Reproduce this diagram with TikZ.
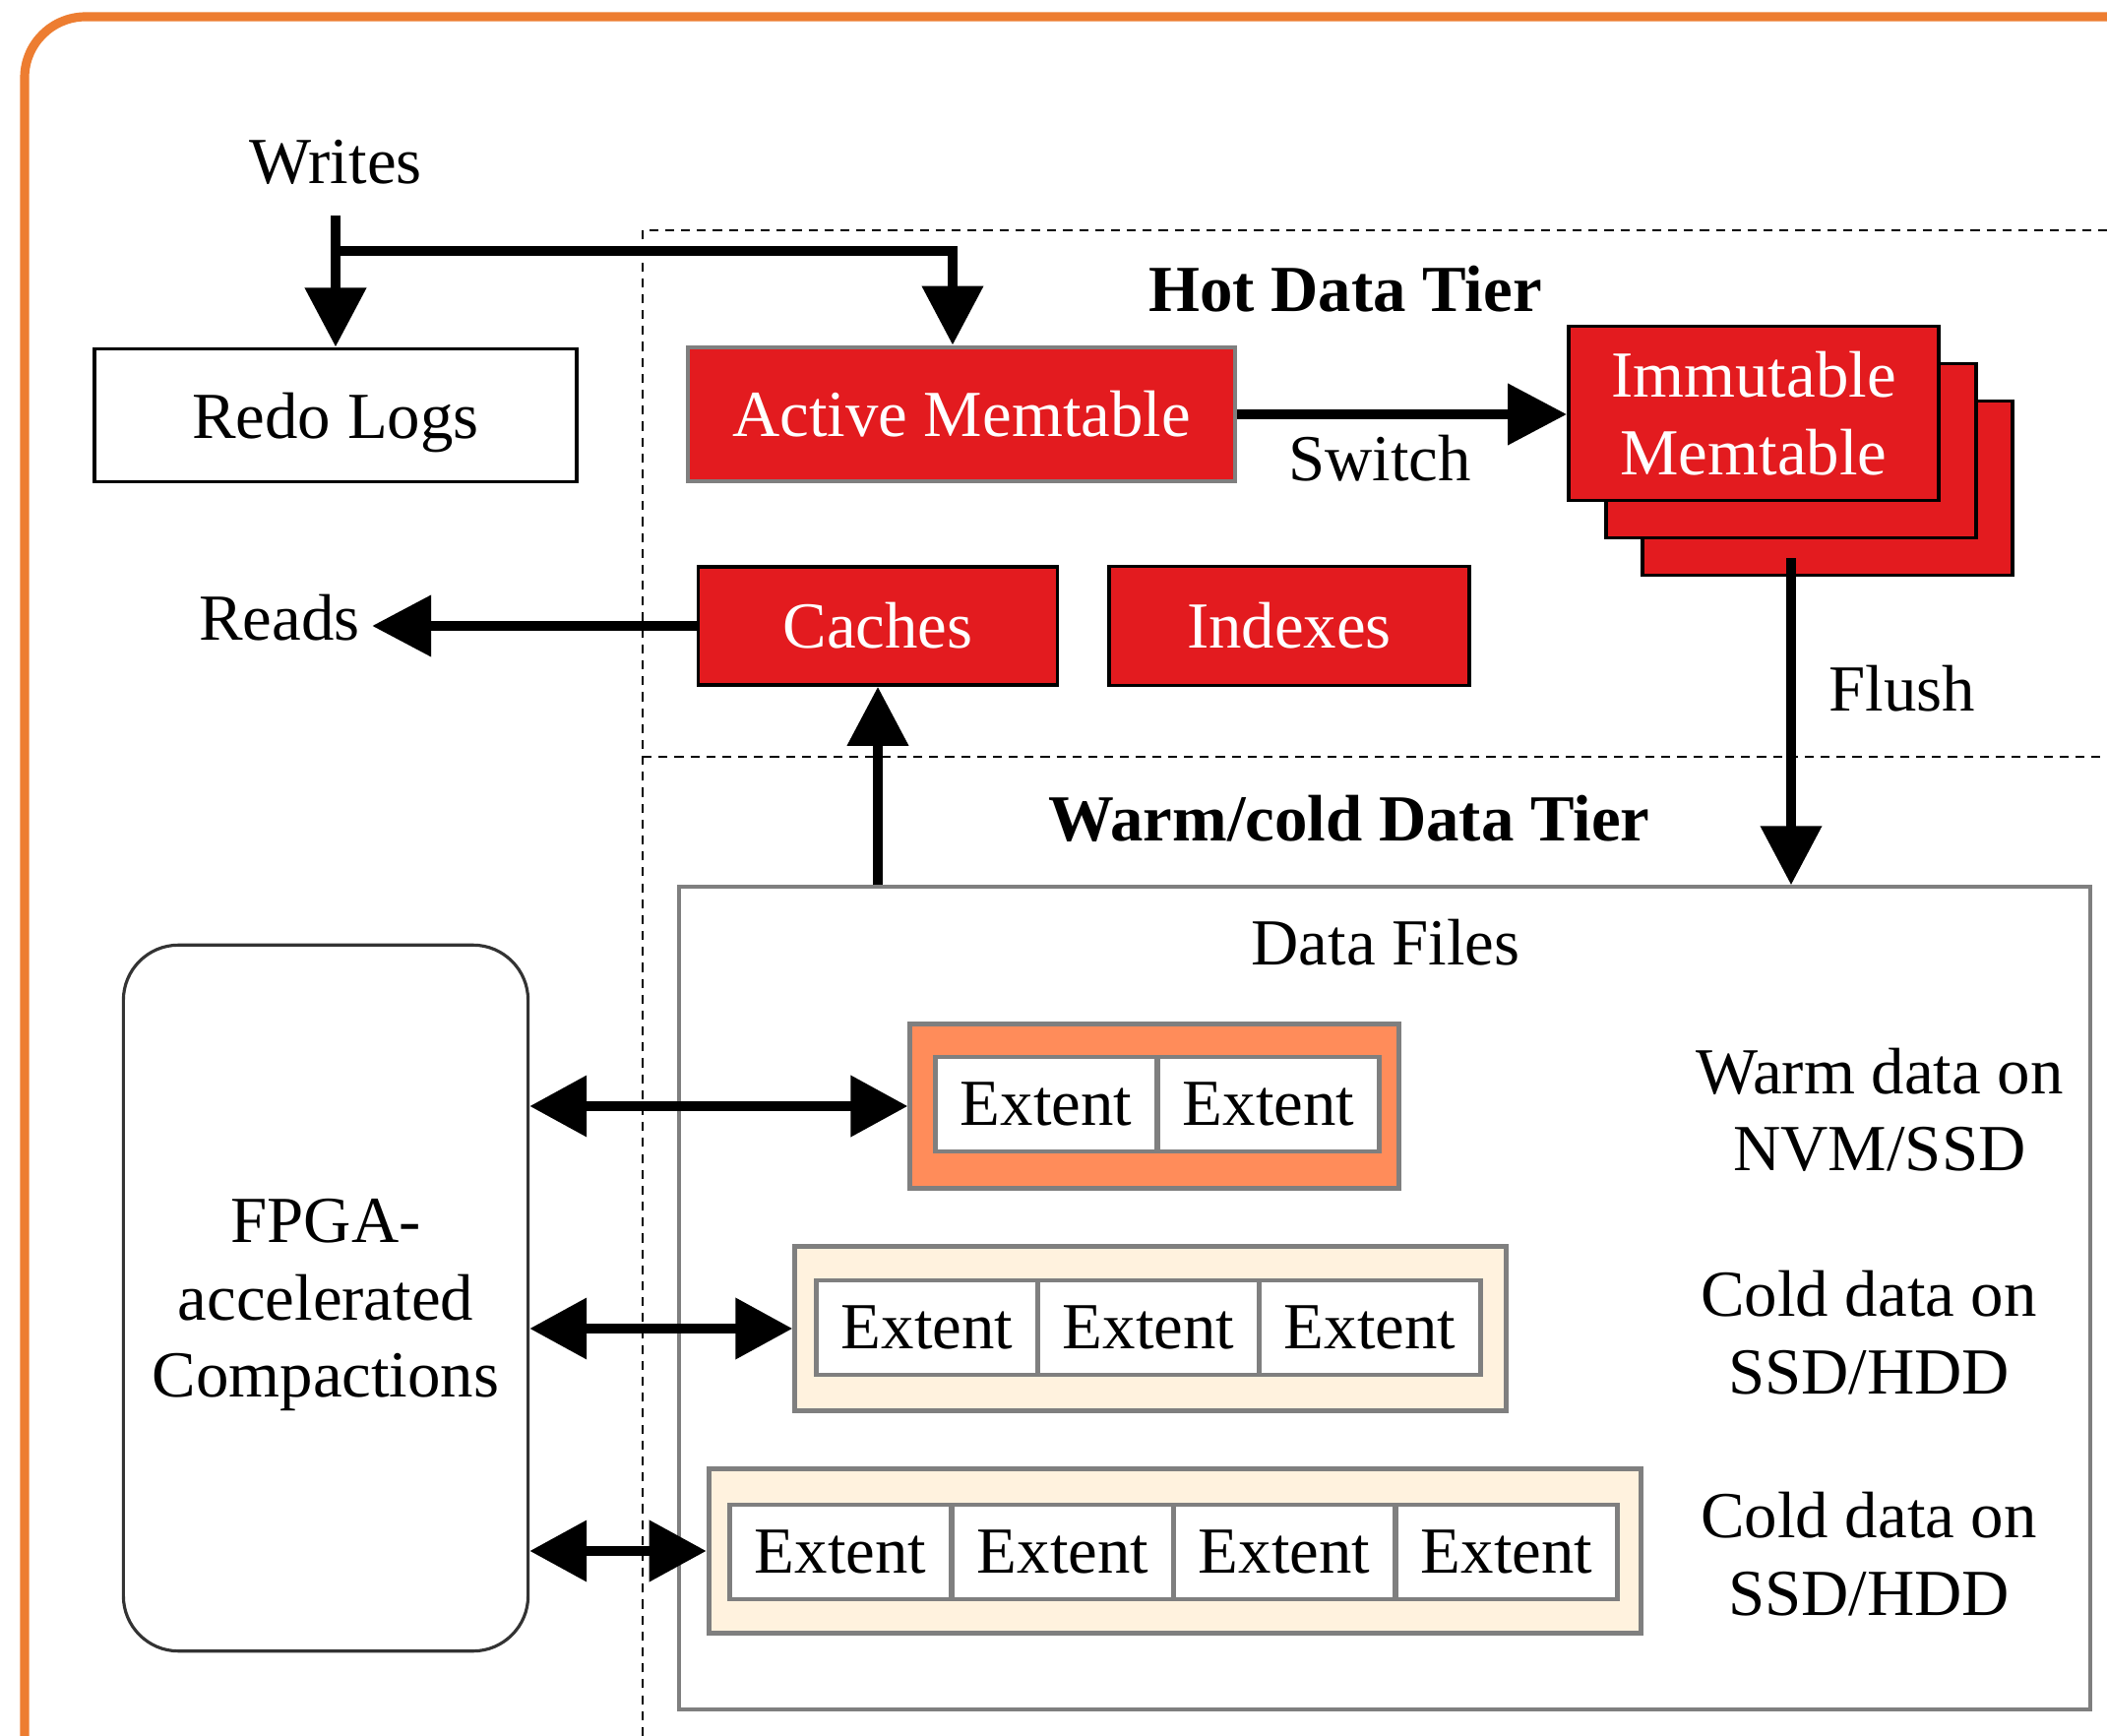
\documentclass[tikz,border=0pt]{standalone}
\usepackage{fontspec}
\setmainfont{Liberation Serif}
\usetikzlibrary{arrows.meta}
\definecolor{memred}{HTML}{E31B1F}
\definecolor{warmfill}{HTML}{FF8C5A}
\definecolor{coldfill}{HTML}{FFF2DE}
\definecolor{framecol}{HTML}{ED7D31}
\definecolor{linegrey}{HTML}{7F7F7F}
\tikzset{
  frame/.style={draw=framecol,line width=2.6pt,rounded corners=0.62cm},
  tier/.style={line width=0.6pt,dash pattern=on 2.6pt off 2pt},
  flow/.style={line width=3pt,-{Triangle[width=0.6cm,length=0.6cm]}},
  both/.style={line width=3pt,{Triangle[width=0.6cm,length=0.58cm]}-{Triangle[width=0.6cm,length=0.58cm]}},
  logbox/.style={draw=black,line width=1.1pt,fill=white,inner sep=0pt},
  membox/.style={draw=black,line width=1pt,fill=memred,text=white,inner sep=0pt,align=center},
  tray/.style={draw=linegrey,line width=1.4pt,minimum height=1.66cm,inner sep=0pt},
  extent/.style={draw=linegrey,line width=1.3pt,fill=white,minimum width=2.25cm,minimum height=0.96cm,inner sep=0pt},
}
\begin{document}
\begin{tikzpicture}[x=0.01cm,y=-0.01cm,font=\fontsize{19}{22.3}\selectfont]
  \clip (0,0) rectangle (2141,1764);
  \fill[white] (0,0) rectangle (2141,1764);
  % outer frame
  \draw[frame] (25,1800) -- (25,17) -- (2200,17);
  % tier borders
  \draw[tier] (653,1764) -- (653,234) -- (2141,234);
  \draw[tier] (653,769) -- (2141,769);
  % texts
  \node at(341,165)(writes){Writes};
  \node at(284,628)(reads){Reads};
  \node at(1367,294)(hot){\textbf{Hot Data Tier}};
  \node at(1371,832)(warmcold){\textbf{Warm/cold Data Tier}};
  \node at(1402,466)(switch){Switch};
  \node at(1933,700)(flush){Flush};
  % hot tier nodes
  \node[logbox,text depth=0pt,minimum width=4.9cm,minimum height=1.35cm] at(341,422)(redo){Redo Logs};
  \node[membox,draw=linegrey,line width=1.3pt,minimum width=5.56cm,minimum height=1.36cm] at(977,421)(active){Active Memtable};
  \node[membox,minimum width=3.65cm,minimum height=1.2cm] at(892,636)(caches){Caches};
  \node[membox,minimum width=3.66cm,minimum height=1.21cm] at(1310,636)(indexes){Indexes};
  \node[membox,minimum width=3.76cm,minimum height=1.77cm] at(1857,496)(imm3){};
  \node[membox,minimum width=3.76cm,minimum height=1.77cm] at(1820,458)(imm2){};
  \node[membox,minimum width=3.76cm,minimum height=1.77cm] at(1782,420)(imm1){Immutable\\Memtable};
  % warm/cold tier nodes
  \node[draw=linegrey,line width=1.1pt,minimum width=14.33cm,minimum height=8.35cm] at(1407,1319)(datafiles){};
  \node at(1408,958)(dflabel){Data Files};
  \node[draw=black!80,line width=0.9pt,rounded corners=0.56cm,text depth=0pt,minimum width=4.11cm,minimum height=7.17cm,align=center] at(331,1319)(fpga){FPGA-\\accelerated\\Compactions};
  % extent trays
  \node[tray,fill=warmfill,minimum width=4.96cm] at(1173,1124)(warm){};
  \node[tray,fill=coldfill,minimum width=7.22cm] at(1169,1350)(coldA){};
  \node[tray,fill=coldfill,minimum width=9.47cm] at(1194,1576)(coldB){};
  % extents
  \node[extent] at(1063,1122)(w1){Extent};
  \node[extent] at(1289,1122)(w2){Extent};
  \node[extent] at(942,1349)(a1){Extent};
  \node[extent] at(1167,1349)(a2){Extent};
  \node[extent] at(1392,1349)(a3){Extent};
  \node[extent] at(854,1577)(b1){Extent};
  \node[extent] at(1080,1577)(b2){Extent};
  \node[extent] at(1305,1577)(b3){Extent};
  \node[extent] at(1531,1577)(b4){Extent};
  % media texts
  \node[align=center] at(1910,1128)(nvm){Warm data on\\NVM/SSD};
  \node[align=center] at(1899,1354)(ssdA){Cold data on\\SSD/HDD};
  \node[align=center] at(1899,1579)(ssdB){Cold data on\\SSD/HDD};
  % arrows
  \coordinate (fork) at(341,219);
  \coordinate (tee) at(341,255);
  \draw[flow] (fork) -- (redo.north);
  \draw[flow] (tee) -| ([xshift=-0.09cm]active.north);
  \draw[flow] (active.east) -- (imm1.west |- active.east);
  \draw[flow] (caches.west) -- (caches.west -| reads.east);
  \draw[flow] (caches.south |- datafiles.north) -- (caches.south);
  \draw[flow] ([yshift=-0.19cm]imm2.south) -- (imm2.south |- datafiles.north);
  \draw[both] (fpga.east |- warm.west) -- (warm.west);
  \draw[both] (fpga.east |- coldA.west) -- (coldA.west);
  \draw[both] (fpga.east |- coldB.west) -- (coldB.west);
\end{tikzpicture}
\end{document}
